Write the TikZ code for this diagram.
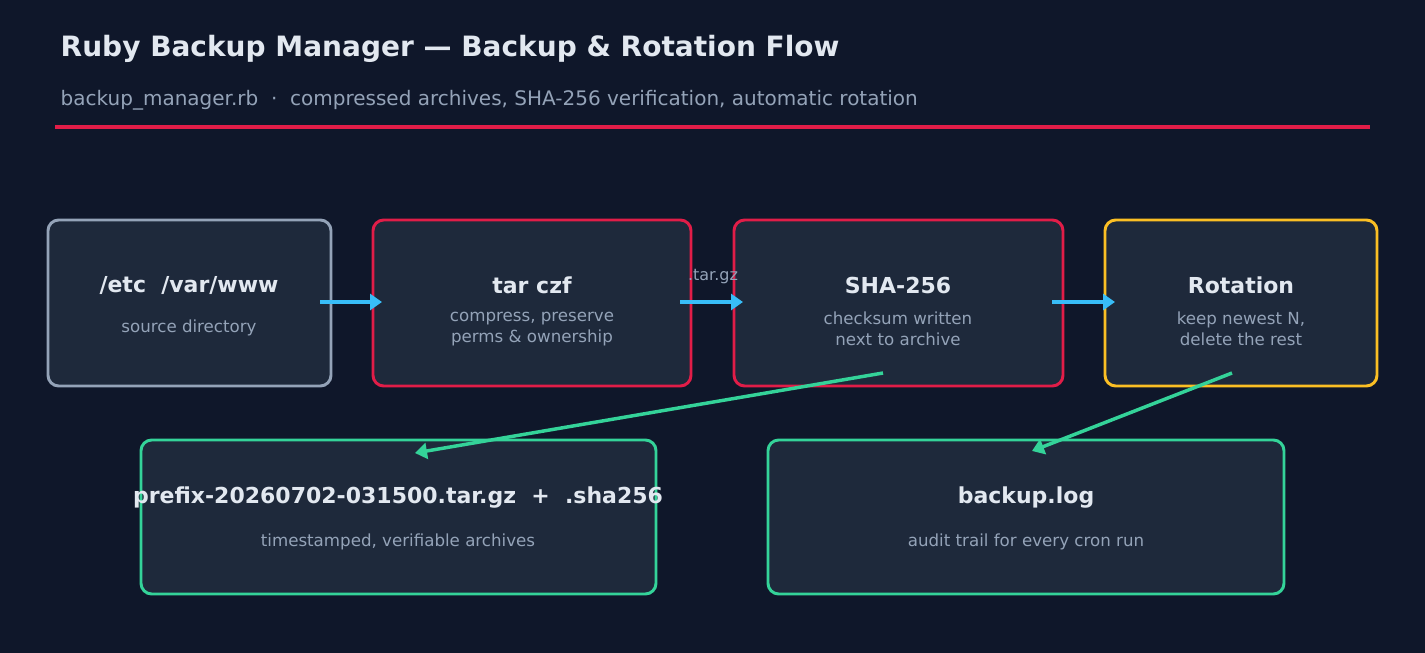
\documentclass[tikz,border=0pt]{standalone}
\usepackage{fontspec}
\setmainfont{DejaVu Sans}
\usetikzlibrary{arrows.meta}
\definecolor{bg}{HTML}{0F172A}
\definecolor{card}{HTML}{1E293B}
\definecolor{txt}{HTML}{E2E8F0}
\definecolor{sub}{HTML}{94A3B8}
\definecolor{crim}{HTML}{E11D48}
\definecolor{gold}{HTML}{FBBF24}
\definecolor{mint}{HTML}{34D399}
\definecolor{sky}{HTML}{38BDF8}
\tikzset{
  box/.style={draw, fill=card, line width=2.2pt, rounded corners=8pt},
  head/.style={text=txt, font=\bfseries\fontsize{16.5}{19}\selectfont},
  note/.style={text=sub, font=\fontsize{12.5}{15.5}\selectfont, align=center},
  flow/.style={draw=sky, line width=2.6pt, -{Triangle[length=9pt,width=12pt]}},
  feed/.style={draw=mint, line width=2.6pt, -{Triangle[length=9pt,width=12pt]}}
}
\begin{document}
\begin{tikzpicture}[x=0.75pt,y=-0.75pt]
	\fill[bg] (0,0) rectangle (1425,653);
	\useasboundingbox (0,0) rectangle (1425,653);

	\node[anchor=base west, text=txt, font=\bfseries\fontsize{21}{25}\selectfont] (title) at (56,56) {Ruby Backup Manager — Backup \& Rotation Flow};
	\node[anchor=base west, text=sub, font=\fontsize{15}{18}\selectfont] (subtitle) at (56,105) {backup\_manager.rb \ · \ compressed archives, SHA-256 verification, automatic rotation};
	\draw[crim, line width=2.4pt] (55,127) -- (1370,127);

	% cards
	\draw[box, draw=sub] (48,220) rectangle (331,386);
	\draw[box, draw=crim] (373,220) rectangle (691,386);
	\draw[box, draw=crim] (734,220) rectangle (1063,386);
	\draw[box, draw=gold] (1105,220) rectangle (1377,386);
	\draw[box, draw=mint] (141,440) rectangle (656,594);
	\draw[box, draw=mint] (768,440) rectangle (1284,594);

	\node[head] (srchead) at (189,285) {/etc \ /var/www};
	\node[note] (srcnote) at (189,328) {source directory};
	\node[head] (tarhead) at (532,285) {tar czf};
	\node[note] (tarnote) at (532,329) {compress, preserve\\perms \& ownership};
	\node[head] (shahead) at (898,285) {SHA-256};
	\node[note] (shanote) at (898,329) {checksum written\\next to archive};
	\node[head] (rothead) at (1241,285) {Rotation};
	\node[note] (rotnote) at (1241,329) {keep newest N,\\delete the rest};
	\node[head] (archead) at (398,498) {prefix-20260702-031500.tar.gz \ + \ .sha256};
	\node[note] (arcnote) at (398,542) {timestamped, verifiable archives};
	\node[head] (loghead) at (1026,498) {backup.log};
	\node[note] (lognote) at (1026,542) {audit trail for every cron run};

	% connectors
	\coordinate (srcout) at (320,302);
	\coordinate (tarin) at (382,302);
	\coordinate (tarout) at (680,302);
	\coordinate (shain) at (743,302);
	\coordinate (shaout) at (1052,302);
	\coordinate (rotin) at (1115,302);
	\coordinate (shadown) at (883,373);
	\coordinate (arcin) at (415,453);
	\coordinate (rotdown) at (1232,373);
	\coordinate (login) at (1032,451);

	\draw[flow] (srcout) -- (tarin);
	\draw[flow] (tarout) -- (shain);
	\draw[flow] (shaout) -- (rotin);
	\node[text=sub, font=\fontsize{12}{14}\selectfont] (ext) at (713,277) {.tar.gz};
	\draw[feed] (shadown) -- (arcin);
	\draw[feed] (rotdown) -- (login);
\end{tikzpicture}
\end{document}
